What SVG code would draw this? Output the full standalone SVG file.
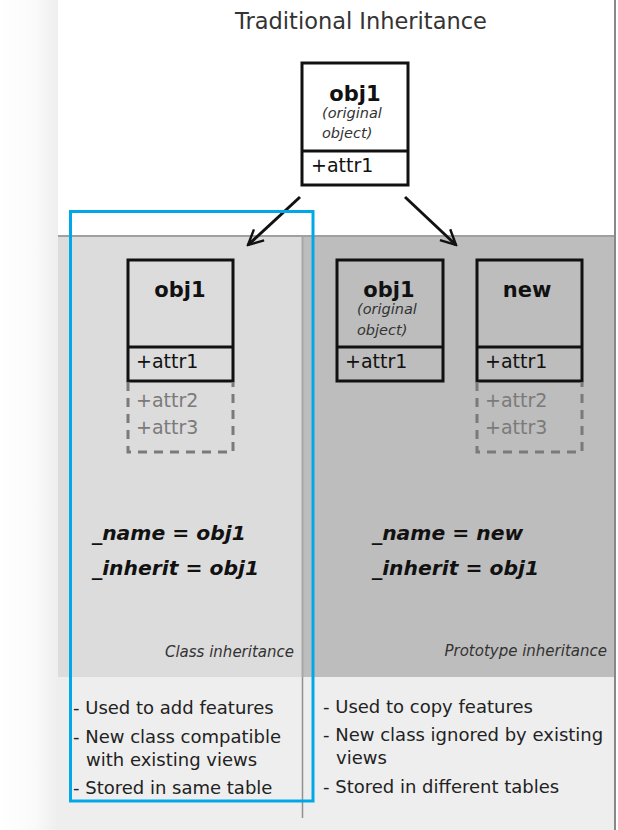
<svg xmlns="http://www.w3.org/2000/svg" width="618" height="830" viewBox="0 0 618 830">
<defs>
<linearGradient id="shadow" x1="0" y1="0" x2="1" y2="0">
<stop offset="0" stop-color="#ffffff"/>
<stop offset="0.6" stop-color="#fafafa"/>
<stop offset="1" stop-color="#eeeeee"/>
</linearGradient>
<marker id="arr" viewBox="0 0 12 12" refX="11" refY="6" markerWidth="6" markerHeight="6" orient="auto" markerUnits="strokeWidth">
<path d="M1,1 L11,6 L1,11" fill="none" stroke="#111" stroke-width="1.6" stroke-linejoin="miter"/>
</marker>
<style>
text{font-family:"DejaVu Sans","Liberation Sans",sans-serif;}
.box{fill:none;stroke:#111;stroke-width:3;}
.dash{fill:none;stroke:#7a7a7a;stroke-width:3;stroke-dasharray:9,7;}
.nm{font-size:21px;font-weight:bold;fill:#111;text-anchor:middle;}
.it{font-size:14.5px;font-style:italic;fill:#333;}
.at{font-size:19px;fill:#111;}
.ag{font-size:19px;fill:#7a7a7a;}
.eq{font-size:20.3px;font-weight:bold;font-style:italic;fill:#111;}
.lb{font-size:15px;font-style:italic;fill:#333;text-anchor:end;}
.bl{font-size:18px;fill:#222;}
</style>
</defs>
<g id="background">
<rect x="0" y="0" width="618" height="830" fill="#ffffff"/>
<rect x="0" y="0" width="58" height="830" fill="url(#shadow)"/>
<rect x="58" y="237" width="244" height="440" fill="#dcdcdc"/>
<rect x="302" y="237" width="313" height="440" fill="#bdbdbd"/>
<rect x="58" y="677" width="557" height="153" fill="#eeeeee"/>
<line x1="58" y1="236" x2="615" y2="236" stroke="#a0a0a0" stroke-width="2"/>
<line x1="302.5" y1="237" x2="302.5" y2="677" stroke="#a8a8a8" stroke-width="2"/>
<line x1="302.5" y1="677" x2="302.5" y2="818" stroke="#909090" stroke-width="1.5"/>
<line x1="615" y1="0" x2="615" y2="830" stroke="#888888" stroke-width="2"/>
</g>
<text x="361" y="29" text-anchor="middle" style="font-size:22.5px;fill:#333">Traditional Inheritance</text>
<g id="connectors">
<line x1="300" y1="197" x2="248" y2="245" stroke="#111" stroke-width="3" marker-end="url(#arr)"/>
<line x1="405" y1="197" x2="456" y2="245" stroke="#111" stroke-width="3" marker-end="url(#arr)"/>
</g>
<g id="node-top-obj1">
<rect x="302" y="63" width="106" height="122" fill="#ffffff" class="box"/>
<line x1="302" y1="151" x2="408" y2="151" stroke="#111" stroke-width="3"/>
<text x="355" y="101" class="nm">obj1</text>
<text x="322" y="118" class="it">(original</text>
<text x="322" y="138" class="it">object)</text>
<text x="311" y="172" class="at">+attr1</text>
</g>
<g id="node-class-obj1">
<rect x="128" y="260" width="105" height="121" class="box"/>
<line x1="128" y1="347" x2="233" y2="347" stroke="#111" stroke-width="3"/>
<path d="M128,382 V452 H233 V382" class="dash"/>
<text x="180" y="297" class="nm">obj1</text>
<text x="136" y="368" class="at">+attr1</text>
<text x="136" y="407" class="ag">+attr2</text>
<text x="136" y="434" class="ag">+attr3</text>
</g>
<g id="node-proto-obj1">
<rect x="337" y="260" width="106" height="121" class="box"/>
<line x1="337" y1="347" x2="443" y2="347" stroke="#111" stroke-width="3"/>
<text x="389" y="297" class="nm">obj1</text>
<text x="357" y="314" class="it">(original</text>
<text x="357" y="335" class="it">object)</text>
<text x="345" y="368" class="at">+attr1</text>
</g>
<g id="node-proto-new">
<rect x="477" y="260" width="105" height="121" class="box"/>
<line x1="477" y1="347" x2="582" y2="347" stroke="#111" stroke-width="3"/>
<path d="M477,382 V452 H582 V382" class="dash"/>
<text x="527" y="297" class="nm">new</text>
<text x="485" y="368" class="at">+attr1</text>
<text x="485" y="407" class="ag">+attr2</text>
<text x="485" y="434" class="ag">+attr3</text>
</g>
<g id="labels">
<text x="92" y="540" class="eq">_name = obj1</text>
<text x="92" y="575" class="eq">_inherit = obj1</text>
<text x="372" y="540" class="eq">_name = new</text>
<text x="372" y="575" class="eq">_inherit = obj1</text>
<text x="294" y="657" class="lb">Class inheritance</text>
<text x="607" y="656" class="lb">Prototype inheritance</text>
</g>
<g id="notes">
<text x="73" y="714" class="bl">- Used to add features</text>
<text x="73" y="743" class="bl">- New class compatible</text>
<text x="86" y="766" class="bl">with existing views</text>
<text x="73" y="794" class="bl">- Stored in same table</text>
<text x="323" y="713" class="bl">- Used to copy features</text>
<text x="323" y="741" class="bl">- New class ignored by existing</text>
<text x="336" y="764" class="bl">views</text>
<text x="323" y="793" class="bl">- Stored in different tables</text>
</g>
<rect id="highlight" x="70.5" y="211.5" width="242.5" height="589.5" fill="none" stroke="#00a8e8" stroke-width="3"/>
</svg>
